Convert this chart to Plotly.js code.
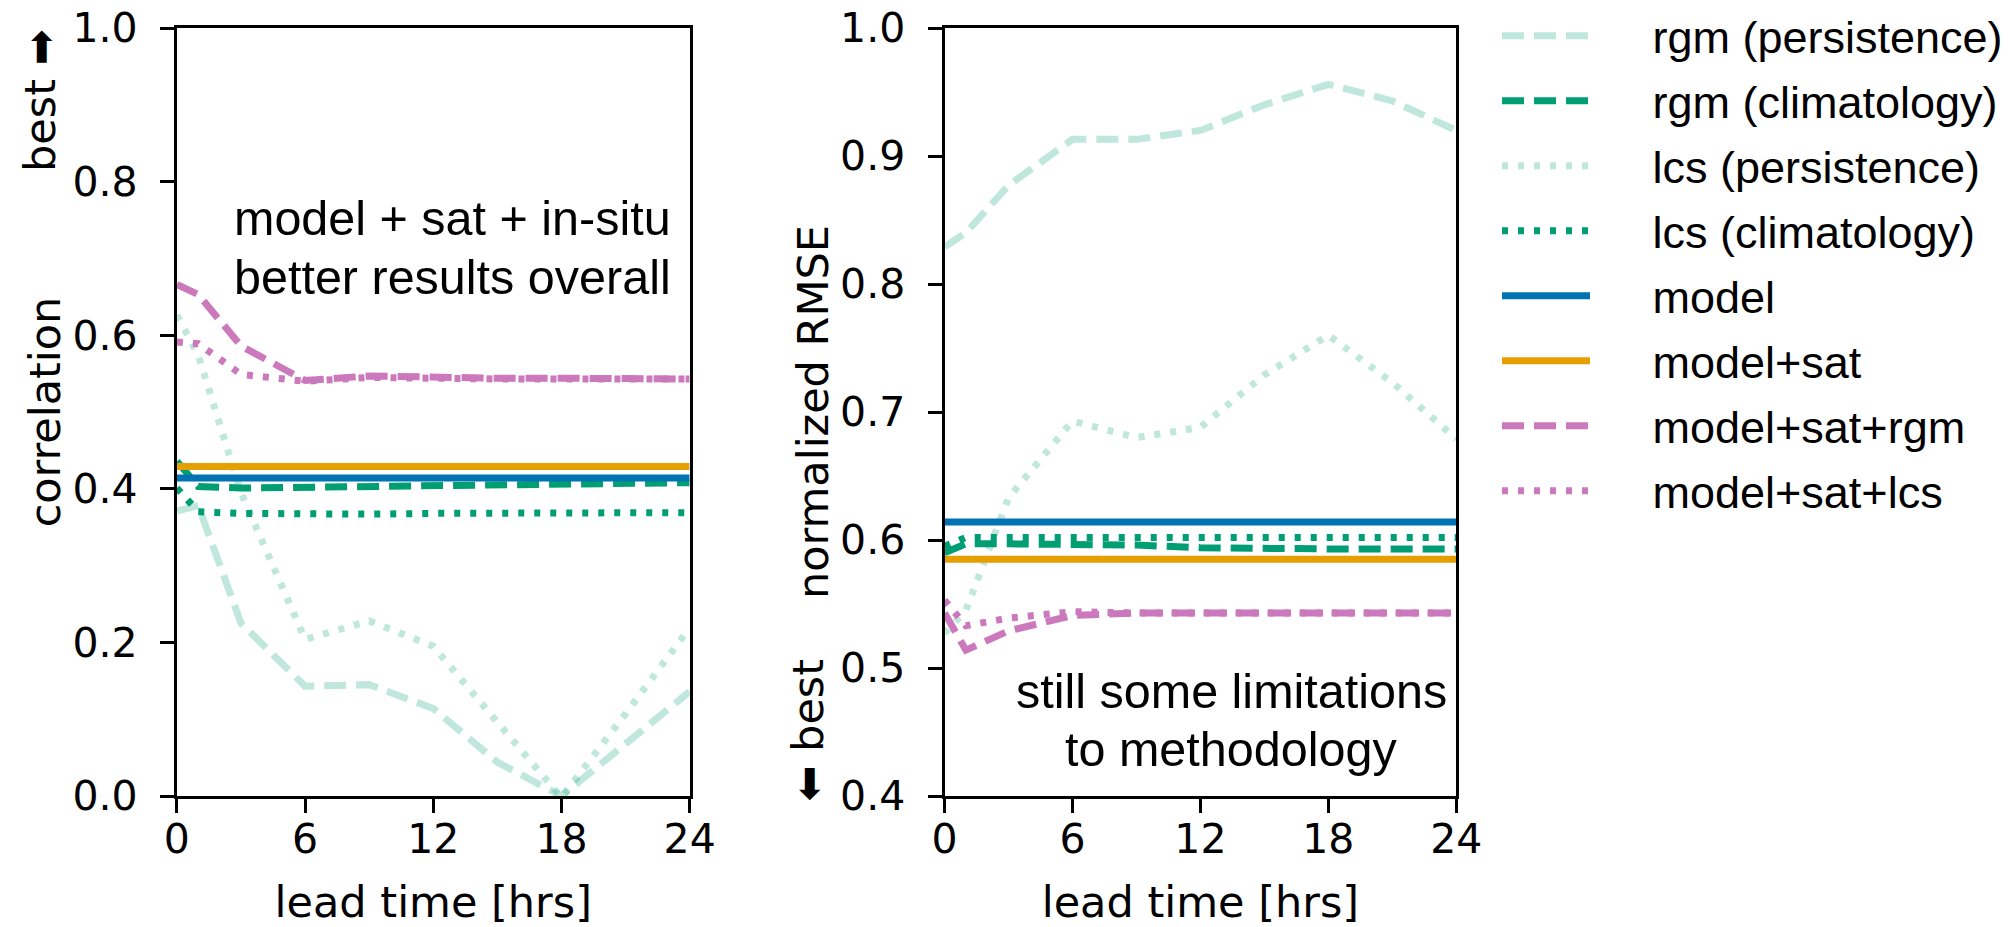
<!DOCTYPE html>
<html>
<head>
<meta charset="utf-8">
<script src="https://cdn.plot.ly/plotly-3.0.1.min.js"></script>
<style>
  html, body { margin: 0; padding: 0; background: #ffffff; overflow: hidden; }
  #chart { width: 2008px; height: 927px; }
</style>
</head>
<body>
<div id="chart"></div>
<script>
// ---------------- data ----------------
var leadHours = [0, 1, 3, 6, 9, 12, 15, 18, 21, 24];
var xTickVals = [0, 6, 12, 18, 24];
var xTickText = ['0', '6', '12', '18', '24'];

var seriesNames = ['rgm (persistence)', 'rgm (climatology)', 'lcs (persistence)', 'lcs (climatology)',
                   'model', 'model+sat', 'model+sat+rgm', 'model+sat+lcs'];

// correlation (left panel)
var corrRgmPersistence = [0.371, 0.378, 0.225, 0.143, 0.145, 0.114, 0.044, 0.000, 0.068, 0.136];
var corrRgmClimatology = [0.436, 0.403, 0.401, 0.402, 0.404, 0.406, 0.407, 0.407, 0.408, 0.408];
var corrLcsPersistence = [0.626, 0.574, 0.395, 0.204, 0.228, 0.195, 0.096, -0.002, 0.107, 0.219];
var corrLcsClimatology = [0.401, 0.370, 0.368, 0.367, 0.367, 0.368, 0.368, 0.368, 0.368, 0.369];
var corrModel          = [0.414, 0.414, 0.414, 0.414, 0.414, 0.414, 0.414, 0.414, 0.414, 0.414];
var corrModelSat       = [0.429, 0.429, 0.429, 0.429, 0.429, 0.429, 0.429, 0.429, 0.429, 0.429];
var corrModelSatRgm    = [0.666, 0.653, 0.586, 0.541, 0.547, 0.545, 0.544, 0.544, 0.543, 0.543];
var corrModelSatLcs    = [0.591, 0.589, 0.549, 0.540, 0.545, 0.543, 0.543, 0.543, 0.543, 0.543];

// normalized RMSE (right panel)
var rmseRgmPersistence = [0.829, 0.840, 0.877, 0.913, 0.913, 0.920, 0.940, 0.956, 0.943, 0.920];
var rmseRgmClimatology = [0.590, 0.597, 0.597, 0.597, 0.596, 0.594, 0.593, 0.593, 0.593, 0.593];
var rmseLcsPersistence = [0.527, 0.545, 0.633, 0.693, 0.680, 0.688, 0.729, 0.760, 0.723, 0.679];
var rmseLcsClimatology = [0.595, 0.602, 0.602, 0.602, 0.602, 0.602, 0.602, 0.602, 0.602, 0.602];
var rmseModel          = [0.614, 0.614, 0.614, 0.614, 0.614, 0.614, 0.614, 0.614, 0.614, 0.614];
var rmseModelSat       = [0.585, 0.585, 0.585, 0.585, 0.585, 0.585, 0.585, 0.585, 0.585, 0.585];
var rmseModelSatRgm    = [0.543, 0.514, 0.529, 0.541, 0.543, 0.543, 0.543, 0.543, 0.543, 0.543];
var rmseModelSatLcs    = [0.553, 0.533, 0.539, 0.544, 0.543, 0.543, 0.543, 0.543, 0.543, 0.543];

var corrTickVals = [0, 0.2, 0.4, 0.6, 0.8, 1.0];
var rmseTickVals = [0.4, 0.5, 0.6, 0.7, 0.8, 0.9, 1.0];

var leftNoteLines = ['model + sat + in-situ', 'better results overall'];
var rightNoteLines = ['still some limitations', 'to methodology'];

// ---------------- styles ----------------
var GREEN = '#029E73', GREEN_LIGHT = 'rgba(2,158,115,0.25)';
var BLUE = '#0173B2', ORANGE = '#E69F00', PINK = '#CC78BC';
var DASH = '22px,10px', DOT = '6px,10px';
var LW = 7;
var seriesStyles = [
  {color: GREEN_LIGHT, dash: DASH},
  {color: GREEN, dash: DASH},
  {color: GREEN_LIGHT, dash: DOT},
  {color: GREEN, dash: DOT},
  {color: BLUE, dash: 'solid'},
  {color: ORANGE, dash: 'solid'},
  {color: PINK, dash: DASH},
  {color: PINK, dash: DOT}
];
var corrSeries = [corrRgmPersistence, corrRgmClimatology, corrLcsPersistence, corrLcsClimatology,
                  corrModel, corrModelSat, corrModelSatRgm, corrModelSatLcs];
var rmseSeries = [rmseRgmPersistence, rmseRgmClimatology, rmseLcsPersistence, rmseLcsClimatology,
                  rmseModel, rmseModelSat, rmseModelSatRgm, rmseModelSatLcs];

// non-breaking gap between legend symbol and legend text
var LEGEND_PAD = '\u2003\u00A0';

var traces = [];
seriesNames.forEach(function (name, i) {
  traces.push({
    x: leadHours, y: corrSeries[i], xaxis: 'x', yaxis: 'y', type: 'scatter', mode: 'lines',
    name: LEGEND_PAD + name, legendgroup: 'g' + i, showlegend: true,
    line: {color: seriesStyles[i].color, dash: seriesStyles[i].dash, width: LW},
    hoverinfo: 'skip'
  });
});
seriesNames.forEach(function (name, i) {
  traces.push({
    x: leadHours, y: rmseSeries[i], xaxis: 'x2', yaxis: 'y2', type: 'scatter', mode: 'lines',
    name: LEGEND_PAD + name, legendgroup: 'g' + i, showlegend: false,
    line: {color: seriesStyles[i].color, dash: seriesStyles[i].dash, width: LW},
    hoverinfo: 'skip'
  });
});

var TICK_FONT = {family: 'DejaVu Sans, sans-serif', size: 41, color: '#000'};
var TITLE_FONT = {family: 'DejaVu Sans, sans-serif', size: 43, color: '#000'};
var LEGEND_FONT = {family: 'Liberation Sans, Arial, sans-serif', size: 45, color: '#000'};
var NOTE_FONT = {family: 'Liberation Sans, Arial, sans-serif', size: 48.5, color: '#000'};

function xAxis(domain, anchor) {
  return {
    domain: domain, anchor: anchor, range: [0, 24],
    tickmode: 'array', tickvals: xTickVals, ticktext: xTickText,
    ticks: 'outside', ticklen: 14, tickwidth: 3, tickcolor: '#000',
    showline: true, mirror: true, linewidth: 3, linecolor: '#000',
    showgrid: false, zeroline: false, tickfont: TICK_FONT, ticklabelstandoff: -9,
    title: {text: 'lead time [hrs]', font: TITLE_FONT}
  };
}
function yAxis(domain, anchor, range, tickvals, title) {
  return {
    domain: domain, anchor: anchor, range: range,
    tickmode: 'array', tickvals: tickvals, tickformat: '.1f',
    ticks: 'outside', ticklen: 14, tickwidth: 3, tickcolor: '#000',
    showline: true, mirror: true, linewidth: 3, linecolor: '#000',
    showgrid: false, zeroline: false, tickfont: TICK_FONT, ticklabelstandoff: 14,
    title: {text: title, font: TITLE_FONT}
  };
}

function note(xref, yref, x, y, text) {
  return {xref: xref, yref: yref, x: x, y: y, text: text, showarrow: false, font: NOTE_FONT,
          xanchor: 'center', yanchor: 'middle', align: 'center'};
}

var yDomain = [131 / 927, 899 / 927];
var layout = {
  width: 2008, height: 927,
  margin: {l: 0, r: 0, t: 0, b: 0, pad: 0},
  paper_bgcolor: '#fff', plot_bgcolor: '#fff',
  showlegend: true,
  legend: {
    x: 1498 / 2008, y: 1, xanchor: 'left', yanchor: 'top',
    font: LEGEND_FONT, itemwidth: 88, tracegroupgap: 3.5,
    bgcolor: 'rgba(0,0,0,0)', borderwidth: 0, traceorder: 'grouped'
  },
  xaxis: xAxis([177 / 2008, 690 / 2008], 'y'),
  yaxis: yAxis(yDomain, 'x', [0, 1], corrTickVals, 'correlation'),
  xaxis2: xAxis([945 / 2008, 1457 / 2008], 'y2'),
  yaxis2: yAxis(yDomain, 'x2', [0.4, 1.0], rmseTickVals, 'normalized RMSE'),
  annotations: [
    note('x', 'y', 12.9, 0.7526, leftNoteLines[0]),
    note('x', 'y', 12.9, 0.6758, leftNoteLines[1]),
    note('x2', 'y2', 13.45, 0.482, rightNoteLines[0]),
    note('x2', 'y2', 13.45, 0.4367, rightNoteLines[1]),
    {xref: 'paper', yref: 'paper', x: 40 / 2008, y: (927 - 100) / 927, text: 'best \u27A1',
     textangle: -90, showarrow: false, font: TITLE_FONT, xanchor: 'center', yanchor: 'middle'},
    {xref: 'paper', yref: 'paper', x: 808 / 2008, y: (927 - 730) / 927, text: '\u2B05 best',
     textangle: -90, showarrow: false, font: TITLE_FONT, xanchor: 'center', yanchor: 'middle'}
  ]
};

Plotly.newPlot('chart', traces, layout, {displayModeBar: false, staticPlot: true});
</script>
</body>
</html>
